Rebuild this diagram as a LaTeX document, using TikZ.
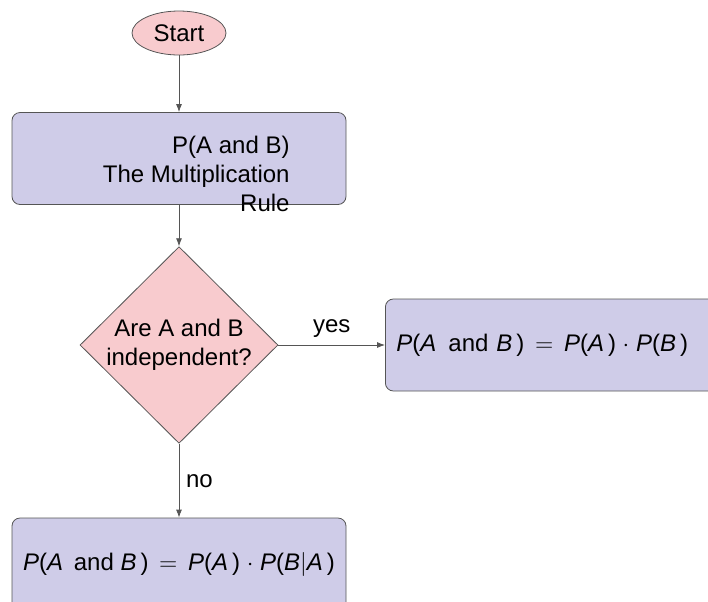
\documentclass[tikz,border=0pt]{standalone}
\usepackage{fontspec}
\setmainfont{Liberation Sans}
\usetikzlibrary{shapes.geometric,arrows.meta}
\definecolor{startpink}{RGB}{248,203,206}
\definecolor{boxblue}{RGB}{207,204,232}
\definecolor{linegray}{RGB}{85,85,85}
\newcommand{\mvar}[1]{\textit{#1}}
\tikzset{
	startstop/.style={ellipse, draw=linegray, fill=startpink, minimum width=47pt, minimum height=22pt, inner sep=0pt},
	process/.style={rectangle, rounded corners=4pt, draw=linegray, fill=boxblue, minimum height=46pt},
	decision/.style={diamond, draw=linegray, fill=startpink, minimum width=99pt, minimum height=98pt, inner sep=0pt, align=center},
	flow/.style={draw=linegray, -{Latex[length=4pt,width=3pt]}}
}

\begin{document}
\begin{tikzpicture}[x=0.5pt,y=-0.5pt,font=\fontsize{12}{14.4}\selectfont]
			%%%%% START %%%%%
			
			\clip (0,0) rectangle (708,601);
			
			\node[startstop] (start) at (179,33) {Start};
			
			\node[process, minimum width=167pt] (rule) at (179,158.5) {};
			\node[align=right, anchor=east, inner sep=0pt] (ruletext) at (290,174) {P(A and B)\\The Multiplication\\Rule};
			
			\node[decision] (indep) at (179,345) {Are A and B\\independent?};
			
			\node[process, anchor=west, inner xsep=5.5pt, text width=165pt, align=left] (yesbox) at (385,345)
				{\mvar{P}(\mvar{A}\,\ and \mvar{B}\,)\;\,$=$\;\,\mvar{P}(\mvar{A}\,)\;$\cdot$\;\mvar{P}(\mvar{B}\,)};
			\node[process, minimum width=167pt] (nobox) at (179,564)
				{\mvar{P}(\mvar{A}\,\ and \mvar{B}\,)\;\,$=$\;\,\mvar{P}(\mvar{A}\,)\;$\cdot$\;\mvar{P}(\mvar{B}$|$\mvar{A}\,)};
			
			\draw[flow] (start) -- (rule);
			\draw[flow] (rule) -- (indep);
			\draw[flow] (indep) -- node[above] (yeslabel) {yes} (yesbox);
			\draw[flow] (indep) -- node[right] (nolabel) {no} (nobox);
			
			%%%%% END %%%%%
\end{tikzpicture}
\end{document}
